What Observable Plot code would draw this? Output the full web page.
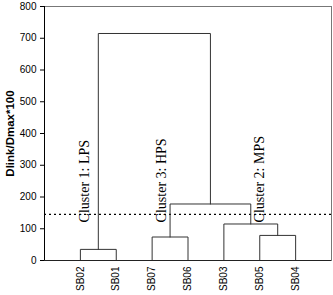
<!DOCTYPE html>
<html>
<head>
<meta charset="utf-8">
<script src="https://cdn.jsdelivr.net/npm/d3@7"></script>
<script src="https://cdn.jsdelivr.net/npm/@observablehq/plot@0.6"></script>
<style>
  html, body { margin: 0; padding: 0; background: #fff; }
  #chart svg { display: block; }
  [aria-label="y-axis label"] text { font-weight: bold; font-size: 11.5px; }
</style>
</head>
<body>
<div id="chart"></div>
<script>
// Leaf order along the x axis
const leaves = ["SB02", "SB01", "SB07", "SB06", "SB03", "SB05", "SB04"];
// Merges (agglomeration steps): child A, child B, linkage height (Dlink/Dmax*100)
const mergeIds = ["m1", "m2", "m3", "m4", "m5", "m6"];
const mergeA = ["SB02", "SB07", "SB05", "SB03", "m2", "m1"];
const mergeB = ["SB01", "SB06", "SB04", "m3", "m4", "m5"];
const mergeHeight = [35, 74, 79, 115, 178, 715];
// Cut line
const cutLevel = [145];
// Cluster annotations
const clusterLabels = ["Cluster 1: LPS", "Cluster 3: HPS", "Cluster 2: MPS"];
const clusterX = [1.12, 3.27, 6.0];
const clusterY = [120, 120, 120];
// Y ticks
const yTicks = [0, 100, 200, 300, 400, 500, 600, 700, 800];

// Build node positions
const pos = new Map();
leaves.forEach((l, i) => pos.set(l, {x: i + 1, h: 0}));
const links = [];
mergeIds.forEach((id, i) => {
  const a = pos.get(mergeA[i]), b = pos.get(mergeB[i]), h = mergeHeight[i];
  pos.set(id, {x: (a.x + b.x) / 2, h});
  links.push({id, x: a.x, y: a.h}, {id, x: a.x, y: h}, {id, x: b.x, y: h}, {id, x: b.x, y: b.h});
});
const clusters = clusterLabels.map((t, i) => ({t, x: clusterX[i], y: clusterY[i]}));

const chart = Plot.plot({
  width: 333,
  height: 295,
  marginLeft: 44,
  marginRight: 2,
  marginTop: 6,
  marginBottom: 35,
  style: {fontFamily: "Liberation Sans, Arial, sans-serif", fontSize: "10px", color: "#000", background: "#fff"},
  x: {domain: [0, 8]},
  y: {domain: [0, 800]},
  marks: [
    Plot.frame({stroke: "#777", strokeWidth: 1}),
    Plot.ruleY(cutLevel, {stroke: "#000", strokeDasharray: "2,3", strokeWidth: 1.2}),
    Plot.line(links, {x: "x", y: "y", z: "id", stroke: "#333", strokeWidth: 1}),
    Plot.text(clusters, {x: "x", y: "y", text: "t", rotate: -90, textAnchor: "start",
      fontFamily: "Liberation Serif, Times New Roman, serif", fontSize: 14, fill: "#000"}),
    Plot.axisY({ticks: yTicks, tickSize: 4, tickPadding: 4, label: "Dlink/Dmax*100",
      labelAnchor: "center", labelArrow: "none", labelOffset: 39}),
    Plot.axisX({ticks: leaves.map((_, i) => i + 1), tickFormat: (d) => leaves[d - 1],
      tickSize: 0, tickPadding: 6, tickRotate: -90, label: null}),
    Plot.ruleX([0], {stroke: "#000"}),
    Plot.ruleY([0], {stroke: "#222"})
  ]
});
document.getElementById("chart").appendChild(chart);
</script>
</body>
</html>
